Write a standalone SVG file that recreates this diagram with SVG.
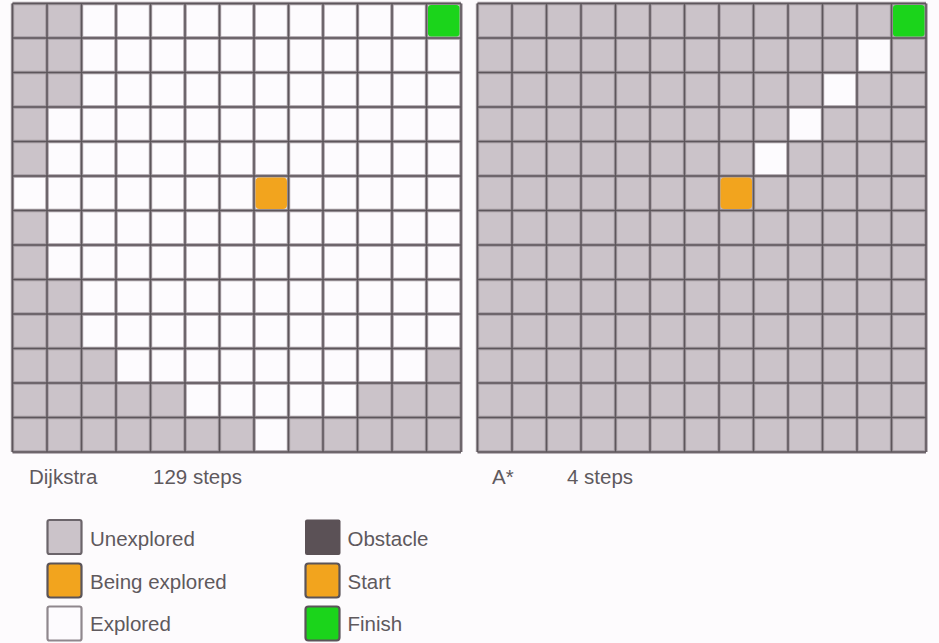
<svg xmlns="http://www.w3.org/2000/svg" width="939" height="643" viewBox="0 0 939 643">
<style>
.bg{fill:#fdfbfd}
.un{fill:#cbc3c9}
.ex{fill:#fdfbfe}
.st{fill:#f2a41e}
.fi{fill:#1bd41b}
.gl1{fill:none;stroke:#a39ba1;stroke-width:3.4}
.gl2{fill:none;stroke:#5d565b;stroke-width:1.5}
.t{font-family:"Liberation Sans",Arial,sans-serif;font-size:20.5px;fill:#5f595d}
.lg{stroke-width:2.2}
</style>
<defs>
<path id="lines" d="M12.5,3.5V452M47,3.5V452M81.5,3.5V452M116,3.5V452M150.5,3.5V452M185,3.5V452M219.5,3.5V452M254,3.5V452M288.5,3.5V452M323,3.5V452M357.5,3.5V452M392,3.5V452M426.5,3.5V452M461,3.5V452M12.5,3.5H461M12.5,38H461M12.5,72.5H461M12.5,107H461M12.5,141.5H461M12.5,176H461M12.5,210.5H461M12.5,245H461M12.5,279.5H461M12.5,314H461M12.5,348.5H461M12.5,383H461M12.5,417.5H461M12.5,452H461"/>
</defs>
<rect class="bg" x="0" y="0" width="939" height="643"/>

<g id="dijkstra-grid">
<rect class="ex" x="12.5" y="3.5" width="448.5" height="448.5"/>
<rect class="un" x="12.5" y="3.5" width="34.5" height="172.5"/>
<rect class="un" x="47" y="3.5" width="34.5" height="103.5"/>
<rect class="un" x="12.5" y="210.5" width="34.5" height="241.5"/>
<rect class="un" x="47" y="279.5" width="34.5" height="172.5"/>
<rect class="un" x="81.5" y="348.5" width="34.5" height="103.5"/>
<rect class="un" x="116" y="383" width="69" height="69"/>
<rect class="un" x="185" y="417.5" width="69" height="34.5"/>
<rect class="un" x="288.5" y="417.5" width="69" height="34.5"/>
<rect class="un" x="357.5" y="383" width="69" height="69"/>
<rect class="un" x="426.5" y="348.5" width="34.5" height="103.5"/>
<use href="#lines" class="gl1"/>
<use href="#lines" class="gl2"/>
<rect class="fi" x="428" y="5" width="31.5" height="31.5" rx="3"/>
<rect class="st" x="255.5" y="177.5" width="31.5" height="31.5" rx="4"/>
</g>

<g id="astar-grid">
<rect class="un" x="477.5" y="3.5" width="448.5" height="448.5"/>
<rect class="ex" x="857" y="38" width="34.5" height="34.5"/>
<rect class="ex" x="822.5" y="72.5" width="34.5" height="34.5"/>
<rect class="ex" x="788" y="107" width="34.5" height="34.5"/>
<rect class="ex" x="753.5" y="141.5" width="34.5" height="34.5"/>
<use href="#lines" class="gl1" x="465"/>
<use href="#lines" class="gl2" x="465"/>
<rect class="fi" x="893" y="5" width="31.5" height="31.5" rx="3"/>
<rect class="st" x="720.5" y="177.5" width="31.5" height="31.5" rx="4"/>
</g>

<g id="labels">
<text class="t" x="29" y="484">Dijkstra</text>
<text class="t" x="153" y="484">129 steps</text>
<text class="t" x="492" y="484">A*</text>
<text class="t" x="567" y="484">4 steps</text>
</g>

<g id="legend-unexplored">
<rect class="un lg" x="47.5" y="520" width="34" height="34" rx="2" stroke="#6b646a"/>
<text class="t" x="90" y="545.5">Unexplored</text>
</g>
<g id="legend-being-explored">
<rect class="st lg" x="47.5" y="563.5" width="34" height="34" rx="3" stroke="#5b5459"/>
<text class="t" x="90" y="588.5">Being explored</text>
</g>
<g id="legend-explored">
<rect class="ex lg" x="47.5" y="606.5" width="34" height="34" rx="2" stroke="#8f878d"/>
<text class="t" x="90" y="631">Explored</text>
</g>
<g id="legend-obstacle">
<rect x="305" y="519.5" width="35.5" height="35.5" rx="2" fill="#5b5156"/>
<text class="t" x="347.5" y="545.5">Obstacle</text>
</g>
<g id="legend-start">
<rect class="st lg" x="305.5" y="563.5" width="34" height="34" rx="3" stroke="#5b5459"/>
<text class="t" x="347.5" y="588.5">Start</text>
</g>
<g id="legend-finish">
<rect class="fi lg" x="305.5" y="606.5" width="34" height="34" rx="3" stroke="#5b5459"/>
<text class="t" x="347.5" y="631">Finish</text>
</g>
</svg>
